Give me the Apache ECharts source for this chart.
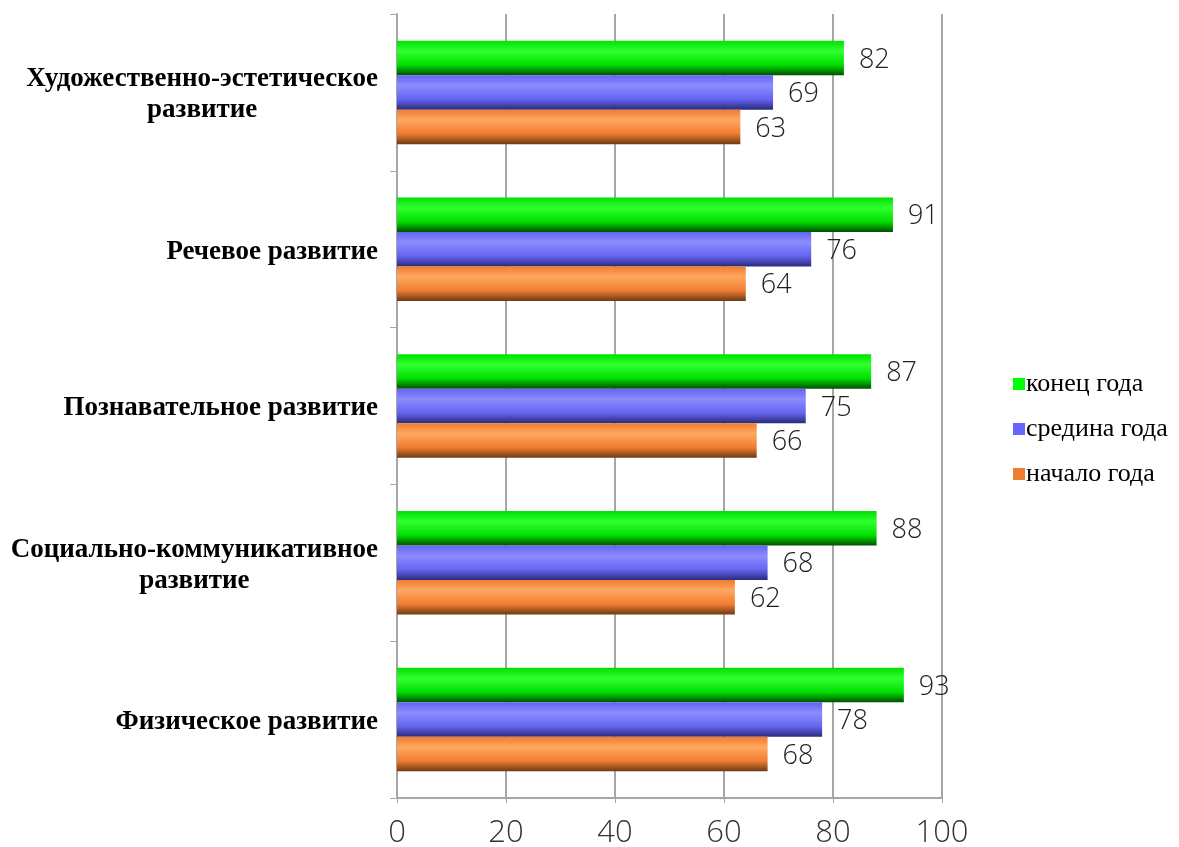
<!DOCTYPE html>
<html><head><meta charset="utf-8">
<script src="https://cdn.jsdelivr.net/npm/echarts@6/dist/echarts.min.js"></script>
<style>html,body{margin:0;padding:0;background:#fff}#c{width:1179px;height:847px}</style>
</head><body><div id="c"></div>
<script>
const categories = ['Физическое развитие', 'Социально-коммуникативное\nразвитие', 'Познавательное развитие', 'Речевое развитие', 'Художественно-эстетическое\nразвитие'];
const seriesNames = ['конец года', 'средина года', 'начало года'];
const endValues = [93, 88, 87, 91, 82];
const midValues = [78, 68, 75, 76, 69];
const startValues = [68, 62, 66, 64, 63];
const xTicks = [0, 20, 40, 60, 80, 100];

function grad(light, mid, dark) {
  return new echarts.graphic.LinearGradient(0, 0, 0, 1, [
    {offset: 0, color: mid},
    {offset: 0.3, color: light},
    {offset: 0.7, color: mid},
    {offset: 1, color: dark}
  ]);
}
const styles = [
  {c: grad('#30ff30', '#00e000', '#005000'), legend: '#00ff00'},
  {c: grad('#8c8cff', '#6464f0', '#2a2a7a'), legend: '#6666ff'},
  {c: grad('#ffa860', '#f07c30', '#6e3a14'), legend: '#ed7d31'}
];
const values = [endValues, midValues, startValues];

const catFont = {fontFamily: 'Liberation Serif', fontWeight: 'bold', fontSize: 27, color: '#000', lineHeight: 31};

const chart = echarts.init(document.getElementById('c'));
chart.setOption({
  animation: false,
  grid: {left: 397, right: 237, top: 14, bottom: 49, containLabel: false, outerBoundsMode: 'none'},
  legend: {
    data: seriesNames.map((n, i) => ({name: n, itemStyle: {color: styles[i].legend}})),
    orient: 'vertical', left: 1008, top: 366, itemWidth: 12, itemHeight: 12, itemGap: 19,
    icon: 'rect',
    textStyle: {fontFamily: 'Liberation Serif', fontSize: 26, lineHeight: 26, color: '#000', padding: [0, 0, 0, -4]}
  },
  xAxis: {
    type: 'value', min: 0, max: 100, interval: 20,
    axisLine: {show: true, lineStyle: {color: '#a6a6a6', width: 2}},
    axisTick: {show: true, length: 5, lineStyle: {color: '#a6a6a6', width: 1}},
    splitLine: {show: true, lineStyle: {color: '#a6a6a6', width: 2}},
    axisLabel: {fontFamily: 'Open Sans', fontWeight: 300, fontSize: 31, color: '#333', margin: 20,
      formatter: v => xTicks.includes(v) ? String(v) : ''}
  },
  yAxis: {
    type: 'category', data: categories,
    axisLine: {show: true, lineStyle: {color: '#a6a6a6', width: 2}},
    axisTick: {show: true, length: 7, lineStyle: {color: '#a6a6a6', width: 1}},
    axisLabel: Object.assign({}, catFont, {margin: 19, align: 'right', padding: [5, 0, 0, 0],
      formatter: v => v.split('\n').map(s => '{c|' + s + '}').join('\n'),
      rich: {c: Object.assign({}, catFont, {align: 'center'})}})
  },
  series: seriesNames.map((n, i) => ({
    name: n, type: 'bar', data: values[i],
    barGap: '0%', barCategoryGap: '34%',
    itemStyle: {color: styles[i].c},
    label: {show: true, position: 'right', distance: 15, offset: [0, 2], fontFamily: 'Open Sans', fontWeight: 300, fontSize: 27, color: '#222'}
  }))
});
</script></body></html>
